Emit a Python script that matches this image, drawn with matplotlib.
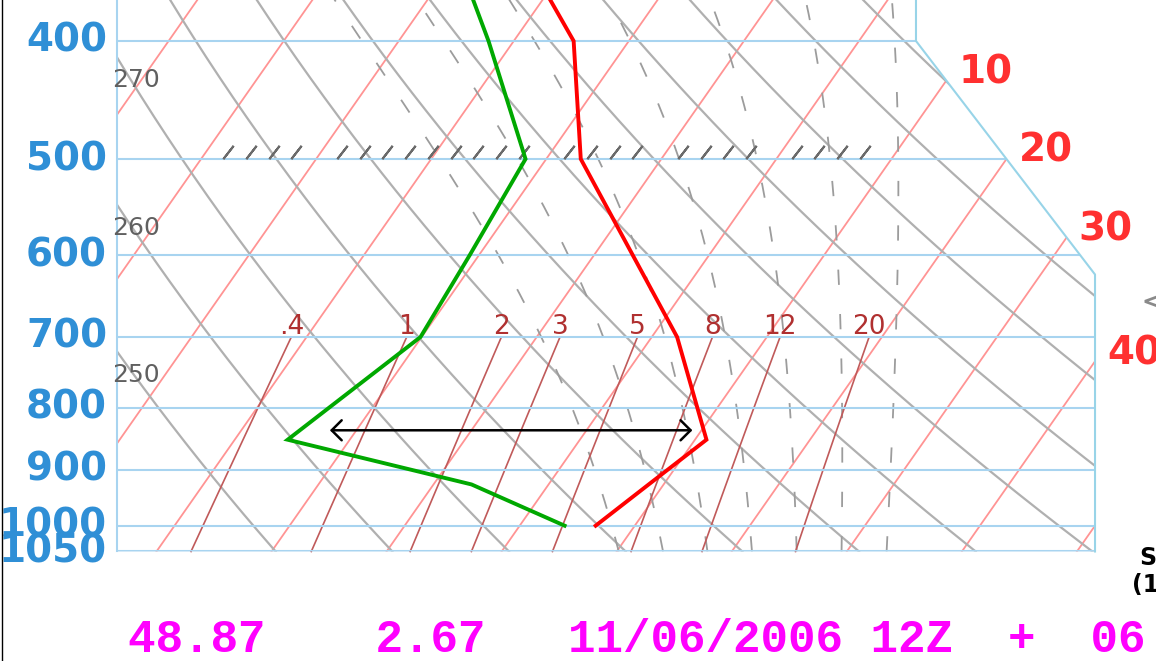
import numpy as np
import matplotlib
matplotlib.use('Agg')
import matplotlib.pyplot as plt
from matplotlib.patches import Polygon

plt.rcParams['lines.scale_dashes'] = False

# sounding, hPa / degC
pres = [1000, 925, 850, 700, 600, 500, 400, 300]
temp = [6.6, 8.7, 11.0, 2.2, -6.6, -17.0, -24.8, -41.6]
dewp = [3.9, -6.7, -25.4, -20.1, -20.8, -21.8, -32.2, -46.4]

# diagram furniture
grid_pres = [400, 500, 600, 700, 800, 900, 1000, 1050]
grid_labels = ['400', '500', '600', '700', '800', '900', '1000', '1050']
isotherms = np.arange(-90, 51, 10)
iso_labels = [10, 20, 30, 40]
dry_theta = np.arange(250, 371, 10)
theta_labels = [250, 260, 270]
moist_thw = np.arange(8, 33, 4)
mix_ratios = [0.4, 1, 2, 3, 5, 8, 12, 20]
mix_labels = ['.4', '1', '2', '3', '5', '8', '12', '20']

arrow_p = 835
arrow_t = (-22.3, 9.2)

footer = '48.87    2.67   11/06/2006 12Z  +  06'

SKEW = 32.18
X_LEFT, X_RIGHT = -35.0, 50.0
X_CUT, P_CUT1, P_CUT2 = 34.44, 400.0, 622.0


def skew(t, p):
    return np.asarray(t) - SKEW * np.log(np.asarray(p) / 1000.0)


def edge_x(p):
    p = np.asarray(p, dtype=float)
    frac = np.log(p / P_CUT1) / np.log(P_CUT2 / P_CUT1)
    return np.where(p >= P_CUT2, X_RIGHT, X_CUT + (X_RIGHT - X_CUT) * frac)


def mix_dewpoint(w, p):
    e = w * p / (622.0 + w)
    a = np.log(e / 6.112)
    return 243.5 * a / (17.67 - a)


def moist_lapse(t, p):
    es = 6.112 * np.exp(17.67 * (t - 273.15) / (t - 29.65))
    rs = 0.622 * es / (p - es)
    lv, rd, cp = 2.501e6, 287.04, 1005.7
    return (rd * t + lv * rs) / (cp + lv * lv * rs * 0.622 / (rd * t * t)) / p


def moist_adiabat(thw):
    out = {}
    for p_end in (300.0, 1050.0):
        ps = np.linspace(1000.0, p_end, 400)
        t = thw + 273.15
        ts = [t]
        for i in range(len(ps) - 1):
            dp = ps[i + 1] - ps[i]
            k1 = moist_lapse(t, ps[i])
            k2 = moist_lapse(t + k1 * dp, ps[i + 1])
            t = t + 0.5 * (k1 + k2) * dp
            ts.append(t)
        out[p_end] = (ps, np.array(ts) - 273.15)
    ps = np.concatenate([out[1050.0][0][::-1], out[300.0][0][1:]])
    ts = np.concatenate([out[1050.0][1][::-1], out[300.0][1][1:]])
    return ps, ts


fig = plt.figure(figsize=(11.56, 6.61), dpi=100)
ax = fig.add_axes([0, 0, 1, 1])
ax.set_yscale('log')
ax.set_ylim(1291.5, 370.2)
ax.set_xlim(-45.17, 55.30)
ax.axis('off')

frame = Polygon([(X_LEFT, 1050), (X_RIGHT, 1050), (X_RIGHT, P_CUT2), (X_CUT, P_CUT1),
                 (X_CUT, 300), (X_LEFT, 300)], closed=True, transform=ax.transData,
                facecolor='none', edgecolor='none')
ax.add_patch(frame)

pp = np.geomspace(300, 1050, 300)

# isotherms
for t in isotherms:
    ln, = ax.plot(skew(t, pp), pp, color='#ff9494', lw=1.3)
    ln.set_clip_path(frame)

# dry adiabats
for th in dry_theta:
    tt = th * (pp / 1000.0) ** 0.2857 - 273.15
    ln, = ax.plot(skew(tt, pp), pp, color='#b0b0b0', lw=1.6)
    ln.set_clip_path(frame)

# moist adiabats
for thw in moist_thw:
    mp, mt = moist_adiabat(thw)
    ln, = ax.plot(skew(mt, mp), mp, color='#9c9c9c', lw=1.3, linestyle=(0, (11, 21)))
    ln.set_clip_path(frame)

# mixing ratio lines
pm = np.geomspace(700, 1050, 50)
for w, lab in zip(mix_ratios, mix_labels):
    ax.plot(skew(mix_dewpoint(w, pm), pm), pm, color='#c05a5a', lw=1.2)
    ax.text(skew(mix_dewpoint(w, 700.0), 700.0), 687, lab, color='#b03030',
            fontsize=19, ha='center', va='center')

# pressure lines and labels
for p, lab in zip(grid_pres, grid_labels):
    ln, = ax.plot([X_LEFT, X_RIGHT], [p, p], color='#a8d4f0', lw=1.5)
    ln.set_clip_path(frame)
    ax.annotate(lab, (X_LEFT, p), xytext=(-10, 0), textcoords='offset pixels',
                ha='right', va='center', fontsize=28, fontweight='bold', color='#2f8fd6')

# frame
ax.plot([X_LEFT, X_LEFT], [300, 1050], color='#a8d4f0', lw=1.5)
ax.plot([X_RIGHT, X_RIGHT, X_CUT, X_CUT], [1050, P_CUT2, P_CUT1, 300], color='#98d4e8', lw=1.5)

# isotherm labels along the cut edge
pe = np.geomspace(P_CUT1, 1050, 3000)
for t in iso_labels:
    d = skew(t, pe) - edge_x(pe)
    i = np.argmin(np.abs(d))
    ax.annotate(str(t), (edge_x(pe[i]), pe[i]), xytext=(12, -3), textcoords='offset pixels',
                ha='left', va='baseline', fontsize=28, fontweight='bold', color='#ff3030')

# theta labels on the left edge
pl = np.geomspace(300, 1050, 3000)
for th in theta_labels:
    tt = th * (pl / 1000.0) ** 0.2857 - 273.15
    i = np.argmin(np.abs(skew(tt, pl) - X_LEFT))
    ax.annotate(str(th), (X_LEFT, pl[i]), xytext=(-5, -23), textcoords='offset pixels',
                ha='left', va='center', fontsize=18, color='#606060')

# hatch along 500 hPa
hx = np.arange(-25.35, 30.5, 1.977)
hx = np.delete(hx, [4, 14, 19, 24])
ax.plot(hx, np.full(len(hx), 493.0), linestyle='none', marker=(2, 2, -38),
        markersize=12, markeredgewidth=1.5, color='#6a6a6a')

# sounding
ax.plot(skew(temp, pres), pres, color='#ff0000', lw=2.8, solid_joinstyle='miter')
ax.plot(skew(dewp, pres), pres, color='#00a800', lw=2.8, solid_joinstyle='miter')

# arrow
ax.annotate('', xy=(skew(arrow_t[1], arrow_p), arrow_p), xytext=(skew(arrow_t[0], arrow_p), arrow_p),
            arrowprops=dict(arrowstyle='<->,head_length=0.45,head_width=0.45', color='black',
                            lw=1.8, mutation_scale=16, shrinkA=0, shrinkB=0))

# footer and cut-off bits on the right
fig.text(128 / 1156, 1 - 652 / 661, footer, fontsize=33, fontweight='bold',
         family='Liberation Mono', color='#ff00ff', ha='left', va='baseline')
fig.text(1140 / 1156, 1 - 303 / 661, '<', fontsize=24, color='#8a8a8a', ha='left', va='center')
fig.text(1139 / 1156, 1 - 558 / 661, 'S', fontsize=17, fontweight='bold', color='black',
         ha='left', va='center')
fig.text(1132 / 1156, 1 - 585 / 661, '(1', fontsize=17, fontweight='bold', color='black',
         ha='left', va='center')

fig.add_artist(plt.Line2D([1.5 / 1156, 1.5 / 1156], [0, 1], color='black', lw=1))

fig.savefig('out.png', dpi=100)
